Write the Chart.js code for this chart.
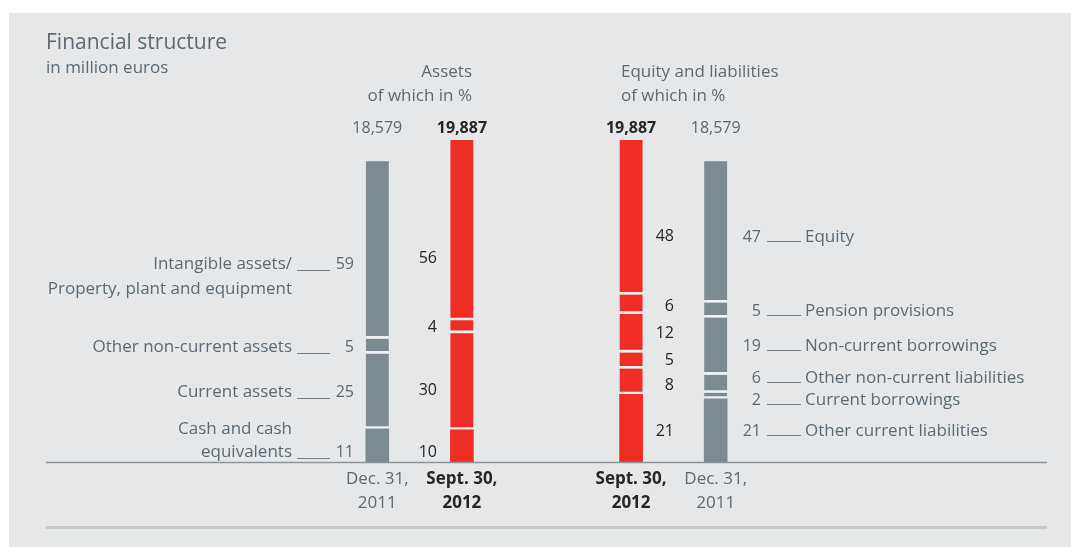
<!DOCTYPE html>
<html>
<head>
<meta charset="utf-8">
<script src="https://cdn.jsdelivr.net/npm/chart.js@4/dist/chart.umd.min.js"></script>
<style>
  html, body { margin: 0; padding: 0; background: #ffffff; }
  #wrap { width: 1071px; height: 547px; }
</style>
</head>
<body>
<div id="wrap"><canvas id="financial" width="1071" height="547"></canvas></div>
<script>
// columns, left to right (the empty one is the gap between the two halves)
const columnLabels = [['Dec. 31,', '2011'], ['Sept. 30,', '2012'], '', ['Sept. 30,', '2012'], ['Dec. 31,', '2011']];
const columnTotals = [18579, 19887, null, 19887, 18579];

// assets, bottom to top, in %
const assetItems = [['Cash and cash', 'equivalents'], ['Current assets'], ['Other non-current assets'], ['Intangible assets/', 'Property, plant and equipment']];
const assetsPct2011 = [11, 25, 5, 59];
const assetsPct2012 = [10, 30, 4, 56];

// equity and liabilities, bottom to top, in %
const liabItems = ['Other current liabilities', 'Current borrowings', 'Other non-current liabilities', 'Non-current borrowings', 'Pension provisions', 'Equity'];
const liabPct2012 = [21, 8, 5, 12, 6, 48];
const liabPct2011 = [21, 2, 6, 19, 5, 47];

const FONT = '"Open Sans", "Noto Sans", sans-serif';
const GREY_BAR = '#7c8a92';
const RED_BAR = '#ee2d24';
const TEXT_GREY = '#5b6b75';
const TEXT_DARK = '#262626';
const PANEL = '#e6e7e9';

// percent of a column total -> million euros
function share(pct, col) {
    return pct == null ? null : columnTotals[col] * pct / 100;
}

// one dataset per stack level
const levels = Math.max(assetsPct2011.length, liabPct2012.length);
const datasets = [];
for (let i = 0; i < levels; i++) {
    datasets.push({
        data: [
            share(assetsPct2011[i], 0),
            share(assetsPct2012[i], 1),
            null,
            share(liabPct2012[i], 3),
            share(liabPct2011[i], 4)
        ],
        backgroundColor: [GREY_BAR, RED_BAR, GREY_BAR, RED_BAR, GREY_BAR],
        borderColor: '#eef0f1',
        borderWidth: i === 0 ? 0 : { top: 0, left: 0, right: 0, bottom: 3 },
        borderSkipped: false,
        barThickness: 23,
        stack: 'all'
    });
}

// text y positions (pixels, vertical centres) for the annotations
const leftLabelY = [[429, 452], [392], [347], [264, 289]];
const redAssetY = [452, 390, 327, 258];
const redLiabY = [431, 385, 360, 333, 306, 236];
const rightLabelY = [431, 400, 378, 346, 311, 237];

const LABEL = '17px ' + FONT;
const NUM = '16px ' + FONT;

const decoration = {
    id: 'decoration',
    beforeDraw(chart) {
        const ctx = chart.ctx;
        ctx.save();
        ctx.fillStyle = PANEL;
        ctx.fillRect(9, 13, chart.width - 9, chart.height - 13);
        ctx.restore();
    },
    afterDatasetsDraw(chart) {
        const ctx = chart.ctx;
        const x = chart.scales.x;
        const base = chart.scales.y.getPixelForValue(0);
        ctx.save();

        // baseline and bottom rule
        ctx.strokeStyle = '#8a969d';
        ctx.lineWidth = 1.5;
        ctx.beginPath();
        ctx.moveTo(46, base + 0.5);
        ctx.lineTo(1047, base + 0.5);
        ctx.stroke();
        ctx.fillStyle = '#c5cacd';
        ctx.fillRect(46, 526, 1001, 3);

        ctx.textBaseline = 'middle';

        // title
        ctx.fillStyle = TEXT_GREY;
        ctx.textAlign = 'left';
        ctx.font = '21px ' + FONT;
        ctx.fillText('Financial structure', 46, 43);
        ctx.font = '17px ' + FONT;
        ctx.fillText('in million euros', 46, 68);

        // headers
        ctx.font = LABEL;
        ctx.textAlign = 'right';
        ctx.fillText('Assets', 472, 72);
        ctx.fillText('of which in %', 472, 96);
        ctx.textAlign = 'left';
        ctx.fillText('Equity and liabilities', 621, 72);
        ctx.fillText('of which in %', 621, 96);

        // totals and column labels
        ctx.textAlign = 'center';
        columnTotals.forEach((t, i) => {
            if (t == null) return;
            const cx = x.getPixelForValue(i);
            const bold = i === 1 || i === 3;
            ctx.fillStyle = bold ? TEXT_DARK : TEXT_GREY;
            ctx.font = (bold ? 'bold ' : '') + NUM;
            ctx.fillText(t.toLocaleString('en-US'), cx, 128);
            const lab = columnLabels[i];
            ctx.font = (bold ? 'bold ' : '') + LABEL;
            ctx.fillText(lab[0], cx, 479);
            ctx.fillText(lab[1], cx, 503);
        });

        // left annotations
        ctx.fillStyle = TEXT_GREY;
        ctx.strokeStyle = '#6f7f88';
        ctx.lineWidth = 1;
        assetItems.forEach((lines, i) => {
            const ys = leftLabelY[i];
            ctx.textAlign = 'right';
            ctx.font = LABEL;
            lines.forEach((ln, k) => ctx.fillText(ln, 292, ys[k]));
            const numY = i === 0 ? ys[1] : ys[0];
            ctx.font = NUM;
            ctx.fillText(String(assetsPct2011[i]), 354, numY);
            ctx.beginPath();
            ctx.moveTo(297, numY + 6.5);
            ctx.lineTo(330, numY + 6.5);
            ctx.stroke();
        });

        // red column percents
        ctx.fillStyle = TEXT_DARK;
        ctx.textAlign = 'right';
        ctx.font = NUM;
        assetsPct2012.forEach((p, i) => ctx.fillText(String(p), 437, redAssetY[i]));
        liabPct2012.forEach((p, i) => ctx.fillText(String(p), 674, redLiabY[i]));

        // right annotations
        ctx.fillStyle = TEXT_GREY;
        liabItems.forEach((name, i) => {
            const y = rightLabelY[i];
            ctx.textAlign = 'right';
            ctx.font = NUM;
            ctx.fillText(String(liabPct2011[i]), 761, y);
            ctx.textAlign = 'left';
            ctx.font = LABEL;
            ctx.fillText(name, 805, y);
            ctx.beginPath();
            ctx.moveTo(767, y + 4.5);
            ctx.lineTo(801, y + 4.5);
            ctx.stroke();
        });

        ctx.restore();
    }
};

new Chart(document.getElementById('financial').getContext('2d'), {
    type: 'bar',
    data: {
        labels: columnLabels,
        datasets: datasets
    },
    options: {
        responsive: false,
        animation: false,
        layout: {
            padding: { left: 335, right: 313, top: 140, bottom: 85 }
        },
        plugins: {
            legend: { display: false },
            tooltip: { enabled: false },
            title: { display: false }
        },
        scales: {
            x: {
                display: false,
                stacked: true,
                offset: true
            },
            y: {
                display: false,
                stacked: true,
                min: 0,
                max: 19887
            }
        }
    },
    plugins: [decoration]
});
</script>
</body>
</html>
